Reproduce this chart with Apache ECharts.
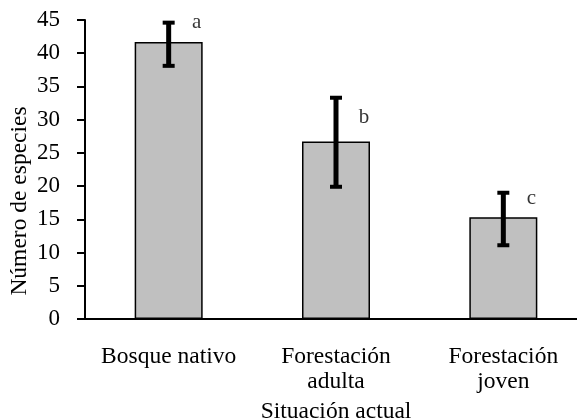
<!DOCTYPE html>
<html>
<head>
<meta charset="utf-8">
<script src="https://cdn.jsdelivr.net/npm/echarts@6/dist/echarts.min.js"></script>
<style>html,body{margin:0;padding:0;background:#fff}#c{width:577px;height:420px}</style>
</head>
<body>
<div id="c"></div>
<script>
var categories = ['Bosque nativo', 'Forestación\nadulta', 'Forestación\njoven'];
var meanValues = [41.7, 26.7, 15.3];
var errLow = [38.1, 19.9, 11.1];
var errHigh = [44.6, 33.3, 19.0];
var letters = ['a', 'b', 'c'];
var letterY = [44.7, 30.3, 18.1];
var yTicks = [0, 5, 10, 15, 20, 25, 30, 35, 40, 45];
var xTitle = 'Situación actual';
var yTitle = 'Número de especies';

var FONT = 'Liberation Serif';
var chart = echarts.init(document.getElementById('c'));
chart.setOption({
  animation: false,
  backgroundColor: '#fff',
  grid: { left: 85, width: 502, top: 20, bottom: 101, outerBoundsMode: 'none', containLabel: false },
  xAxis: {
    type: 'category',
    data: categories,
    name: xTitle,
    nameLocation: 'middle',
    nameGap: 81,
    nameTextStyle: { fontFamily: FONT, fontSize: 23.5, color: '#000' },
    axisLine: { lineStyle: { color: '#000', width: 2 } },
    axisTick: { length: 8, lineStyle: { color: '#000', width: 2 } },
    axisLabel: { interval: 0, fontFamily: FONT, fontSize: 23.5, color: '#000', margin: 25, lineHeight: 25 }
  },
  yAxis: {
    type: 'value',
    min: yTicks[0],
    max: yTicks[yTicks.length - 1],
    interval: yTicks[1] - yTicks[0],
    splitLine: { show: false },
    axisLine: { show: true, lineStyle: { color: '#000', width: 2 } },
    axisTick: { show: true, length: 8, lineStyle: { color: '#000', width: 2 } },
    axisLabel: { fontFamily: FONT, fontSize: 23, color: '#000', margin: 25 }
  },
  graphic: [{
    type: 'text',
    x: 20, y: 201,
    rotation: Math.PI / 2,
    style: { text: yTitle, font: '23.5px "Liberation Serif"', fill: '#000', align: 'center', verticalAlign: 'middle' }
  }],
  series: [
    {
      type: 'bar',
      data: meanValues,
      barWidth: 68,
      itemStyle: { color: '#c0c0c0', borderColor: '#000', borderWidth: 1.5 }
    },
    {
      type: 'custom',
      data: categories.map(function (c, i) { return [i, errLow[i], errHigh[i]]; }),
      renderItem: function (params, api) {
        var x = api.coord([api.value(0), 0])[0];
        var lo = api.coord([api.value(0), api.value(1)])[1];
        var hi = api.coord([api.value(0), api.value(2)])[1];
        var st = { stroke: '#000', lineWidth: 5 };
        var cap = { stroke: '#000', lineWidth: 4 };
        return {
          type: 'group',
          children: [
            { type: 'line', shape: { x1: x, y1: lo, x2: x, y2: hi }, style: st },
            { type: 'line', shape: { x1: x - 6, y1: lo, x2: x + 6, y2: lo }, style: cap },
            { type: 'line', shape: { x1: x - 6, y1: hi, x2: x + 6, y2: hi }, style: cap }
          ]
        };
      },
      z: 5
    },
    {
      type: 'scatter',
      symbolSize: 0,
      data: categories.map(function (c, i) { return [i, letterY[i]]; }),
      label: {
        show: true,
        position: 'inside',
        offset: [28, 0],
        fontFamily: FONT, fontSize: 21, color: '#000',
        formatter: function (p) { return letters[p.dataIndex]; }
      }
    }
  ]
});
</script>
</body>
</html>
